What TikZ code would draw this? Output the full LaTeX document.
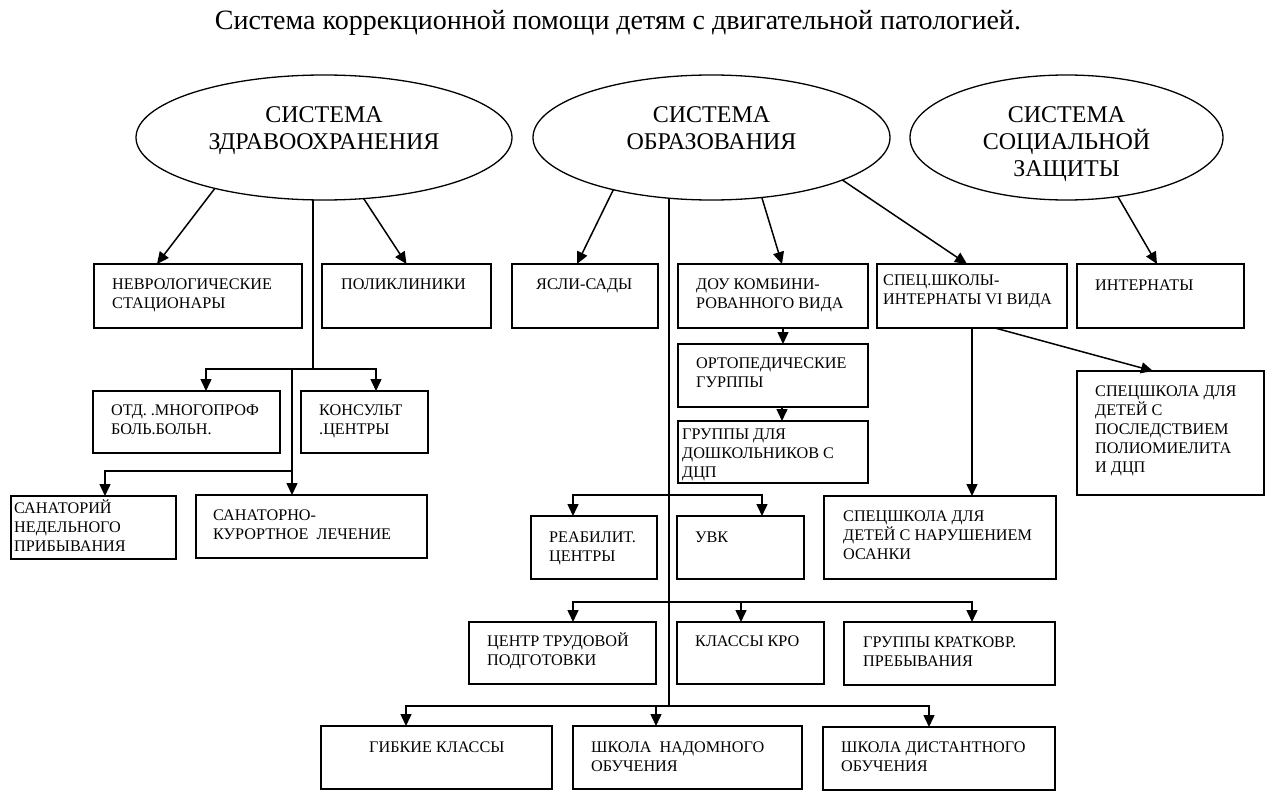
\documentclass[tikz,border=0pt]{standalone}
\usepackage{fontspec}
\setmainfont{Liberation Serif}
\usetikzlibrary{shapes.geometric,arrows.meta,calc}
\tikzset{
 boxst/.style={draw, line width=1.6pt, inner sep=0pt, outer sep=0pt},
 ellst/.style={draw, ellipse, line width=1.3pt, inner sep=0pt, outer sep=0pt},
 txt/.style={anchor=base west, inner sep=0pt, font=\fontsize{16.2}{19}\selectfont},
 etxt/.style={anchor=base, inner sep=0pt, font=\fontsize{24}{27}\selectfont},
 ttl/.style={anchor=base, inner sep=0pt, font=\fontsize{28}{32}\selectfont},
 conn/.style={line width=1.5pt},
 arr/.style={conn, -{Triangle[length=12pt,width=11pt]}},
}
\newcommand{\bx}[8]{%
 \node[boxst, minimum width={#4pt-#2pt}, minimum height={#5pt-#3pt}] (#1) at ({(#2+#4)/2},{(#3+#5)/2}) {};
 \node[txt] (#1-t) at (#6,#7) {\parbox[t]{300pt}{\raggedright #8}};}
\begin{document}
\begin{tikzpicture}[x=1pt,y=-1pt]
\useasboundingbox[fill=white] (0,0) rectangle (1270,797);
\node[ttl] (title) at (618,30) {Система коррекционной помощи детям с двигательной патологией.};

% ellipses
\node[ellst, minimum width=376pt, minimum height=125pt] (zdrav) at (324,137.5) {};
\node[etxt] (zdrav-t) at (324,123) {\parbox[t]{300pt}{\centering СИСТЕМА\\ЗДРАВООХРАНЕНИЯ}};
\node[ellst, minimum width=357pt, minimum height=125pt] (obraz) at (711.5,137.5) {};
\node[etxt] (obraz-t) at (711.5,123) {\parbox[t]{300pt}{\centering СИСТЕМА\\ОБРАЗОВАНИЯ}};
\node[ellst, minimum width=313pt, minimum height=125pt] (soc) at (1066.5,137.5) {};
\node[etxt] (soc-t) at (1066.5,123) {\parbox[t]{300pt}{\centering СИСТЕМА\\СОЦИАЛЬНОЙ\\ЗАЩИТЫ}};

% boxes
\bx{nevr}{94}{264}{302}{328}{112}{289}{НЕВРОЛОГИЧЕСКИЕ\\СТАЦИОНАРЫ}
\bx{polikl}{322}{264}{491}{328}{341}{289}{ПОЛИКЛИНИКИ}
\bx{otd}{93}{391}{280}{453}{111}{415}{ОТД. .МНОГОПРОФ\\БОЛЬ.БОЛЬН.}
\bx{kons}{301}{391}{428}{453}{319}{415}{КОНСУЛЬТ\\.ЦЕНТРЫ}
\bx{sanned}{11}{496}{176}{559}{14}{513}{САНАТОРИЙ\\НЕДЕЛЬНОГО\\ПРИБЫВАНИЯ}
\bx{sankur}{196}{495}{427}{558}{213}{520}{САНАТОРНО-\\КУРОРТНОЕ\ \ ЛЕЧЕНИЕ}
\bx{yasli}{512}{264}{658}{328}{536}{289}{ЯСЛИ-САДЫ}
\bx{dou}{678}{264}{868}{328}{696}{289}{ДОУ КОМБИНИ-\\РОВАННОГО ВИДА}
\bx{orto}{678}{344}{868}{407}{696}{368}{ОРТОПЕДИЧЕСКИЕ\\ГУРППЫ}
\bx{grdosh}{678}{421}{868}{483}{682}{439}{ГРУППЫ ДЛЯ\\ДОШКОЛЬНИКОВ С\\ДЦП}
\bx{specint}{877}{264}{1067}{328}{883}{285}{СПЕЦ.ШКОЛЫ-\\ИНТЕРНАТЫ VI ВИДА}
\bx{internat}{1077}{264}{1244}{328}{1095}{290}{ИНТЕРНАТЫ}
\bx{polio}{1077}{371}{1264}{495}{1095}{396}{СПЕЦШКОЛА ДЛЯ\\ДЕТЕЙ С\\ПОСЛЕДСТВИЕМ\\ПОЛИОМИЕЛИТА\\И ДЦП}
\bx{osanki}{824}{496}{1056}{579}{843}{521}{СПЕЦШКОЛА ДЛЯ\\ДЕТЕЙ С НАРУШЕНИЕМ\\ОСАНКИ}
\bx{reab}{531}{516}{657}{579}{549}{542}{РЕАБИЛИТ.\\ЦЕНТРЫ}
\bx{uvk}{677}{516}{804}{579}{695}{542}{УВК}
\bx{ctp}{469}{622}{656}{684}{487}{646}{ЦЕНТР ТРУДОВОЙ\\ПОДГОТОВКИ}
\bx{kro}{677}{622}{824}{684}{695}{646}{КЛАССЫ КРО}
\bx{grkr}{844}{622}{1055}{685}{863}{647}{ГРУППЫ КРАТКОВР.\\ПРЕБЫВАНИЯ}
\bx{gib}{321}{726}{552}{789}{369}{752}{ГИБКИЕ КЛАССЫ}
\bx{nadom}{573}{726}{802}{789}{591}{752}{ШКОЛА\ \ НАДОМНОГО\\ОБУЧЕНИЯ}
\bx{dist}{823}{727}{1055}{790}{841}{752}{ШКОЛА ДИСТАНТНОГО\\ОБУЧЕНИЯ}

% junction coordinates
\coordinate (hj1) at (313,369);
\coordinate (hj2) at (292,369);
\coordinate (hj3) at (292,471);
\coordinate (r1) at (669,495);
\coordinate (r2) at (669,602);
\coordinate (r3) at (669,706);

% health system
\draw[arr] (zdrav.205.3) -- ([xshift=-41pt]nevr.north);
\draw[arr] (zdrav.303.3) -- (polikl.north);
\draw[conn] (hj1 |- zdrav.260) -- (hj1);
\draw[arr] (hj1) -| ([xshift=19.5pt]otd.north);
\draw[arr] (hj1) -| ([xshift=11.5pt]kons.north);
\draw[conn] (hj2) -- (hj3);
\draw[arr] (hj3) -- ([xshift=-19.5pt]sankur.north);
\draw[arr] (hj3) -| ([xshift=11.5pt]sanned.north);

% education system
\draw[arr] (obraz.208.2) -- ([xshift=-8pt]yasli.north);
\draw[arr] (obraz.310) -- ([xshift=9pt]dou.north);
\draw[arr] (obraz.342.3) -- ([xshift=-5pt]specint.north);
\draw[conn] (r3 |- obraz.235) -- (r3);
\draw[arr] ([xshift=10pt]dou.south) -- ([xshift=10pt]orto.north);
\draw[arr] ([xshift=9pt]orto.south) -- ([xshift=9pt]grdosh.north);
\draw[arr] (r1) -| ([xshift=-21pt]reab.north);
\draw[arr] (r1) -| ([xshift=21.5pt]uvk.north);
\draw[arr] (r2) -| ([xshift=10.5pt]ctp.north);
\draw[arr] (r2) -| ([xshift=-9.5pt]kro.north);
\draw[arr] (r2) -| ([xshift=22.5pt]grkr.north);
\draw[arr] (r3) -| ([xshift=-30.5pt]gib.north);
\draw[arr] (r3) -| ([xshift=-31.5pt]nadom.north);
\draw[arr] (r3) -| ([xshift=-10pt]dist.north);
\draw[arr] (specint.south) -- ([xshift=32pt]osanki.north);
\draw[arr] ([xshift=23pt]specint.south) -- ([xshift=-17.5pt]polio.north);

% social protection
\draw[arr] (soc.311.1) -- ([xshift=-3.5pt]internat.north);
\end{tikzpicture}
\end{document}
